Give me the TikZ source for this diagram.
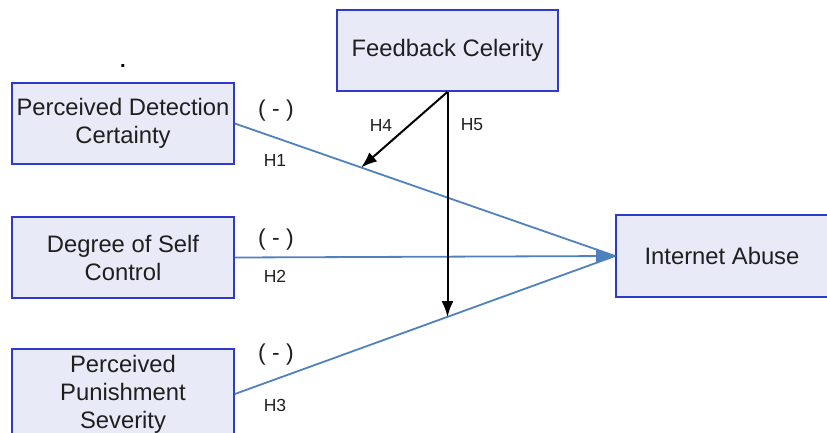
\documentclass[tikz,border=0pt]{standalone}
\usepackage{fontspec}
\setmainfont{Liberation Sans}
\usetikzlibrary{arrows.meta,calc}
\definecolor{boxfill}{HTML}{E8EBF7}
\definecolor{boxdraw}{HTML}{2E3BC8}
\definecolor{pathblue}{HTML}{4F81BD}
\tikzset{
  cbox/.style={draw=boxdraw, line width=1.7pt, fill=boxfill, minimum width=222pt, minimum height=81pt, align=center, font=\fontsize{23.8}{28}\selectfont, text=black!88, inner sep=0pt},
  bpath/.style={draw=pathblue, line width=1.8pt},
  kpath/.style={draw=black, line width=2pt, -{Latex[length=16pt,width=12pt]}},
  hlab/.style={font=\fontsize{17.5}{20}\selectfont, text=black!88},
  slab/.style={font=\fontsize{23}{24}\selectfont, text=black!88}
}
\begin{document}
\begin{tikzpicture}[x=1pt,y=-1pt]
\useasboundingbox (0,0) rectangle (827,432);
\node[cbox] (pdc) at (123,123.5) {Perceived Detection\\Certainty};
\node[cbox] (dsc) at (123,257.5) {Degree of Self\\Control};
\node[cbox, minimum height=90pt] (pps) at (123,394) {Perceived\\Punishment\\Severity};
\node[cbox, minimum width=221pt] (fc) at (447.5,50.5) {Feedback Celerity};
\node[cbox, minimum width=212pt, minimum height=82pt] (ia) at (722,256) {Internet Abuse};
\node[font=\fontsize{20}{20}\selectfont\bfseries] (dot) at (123,66) {.};
% blue paths
\draw[bpath] (pdc.east) -- (ia.west);
\draw[bpath] (pps.east) -- (ia.west);
\draw[bpath, -{Latex[length=19pt,width=15pt]}] (dsc.east) -- (ia.west);
% coordinates on the paths
\coordinate (h4end) at ($(pdc.east)!0.332!(ia.west)$);
\coordinate (h5end) at ($(pps.east)!0.558!(ia.west)$);
\draw[kpath] (fc.south) -- (h4end);
\draw[kpath] (fc.south) -- (fc.south |- h5end);
% labels
\node[slab] (s1) at (276,111) {( - )};
\node[slab] (s2) at (276,240) {( - )};
\node[slab] (s3) at (276,355) {( - )};
\node[hlab] (l1) at (275,160) {H1};
\node[hlab] (l2) at (275,276) {H2};
\node[hlab] (l3) at (275,405) {H3};
\node[hlab] (l4) at (381,125) {H4};
\node[hlab] (l5) at (472,125) {H5};
\end{tikzpicture}
\end{document}
